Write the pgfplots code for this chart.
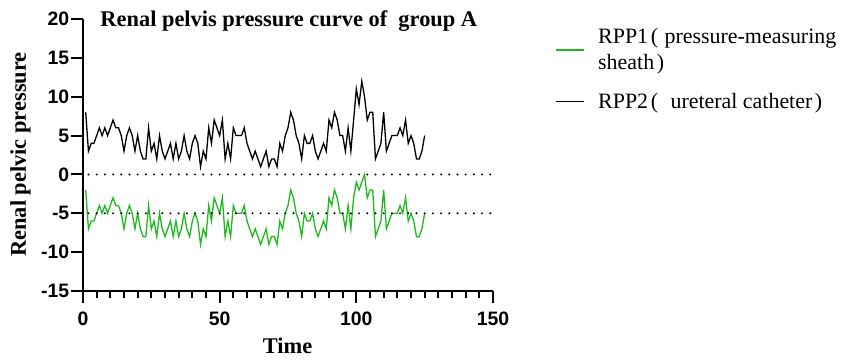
\documentclass[border=0pt]{standalone}
\usepackage{fontspec}
\setmainfont{Liberation Serif}
\newfontfamily\arial{Liberation Sans}
\usepackage{pgfplots}
\pgfplotsset{compat=1.18}
\usepackage{pgfplotstable}
\definecolor{rppgreen}{RGB}{30,185,30}
\pgfplotsset{
  rpplegend/.style={legend image code/.code={\draw[##1] (0bp,0bp) -- (28bp,0bp); \path (40bp,0bp);}},
}

\pgfplotstableread{
x y
1 8
2 3
3 4
4 4
5 5
6 6
7 5
8 6
9 5
10 6
11 7
12 6
13 6
14 5
15 3
16 5
17 6
18 5
19 3
20 5
21 3
22 2
23 2
24 6
25 3
26 4
27 2
28 5
29 3
30 2
31 3
32 4
33 2
34 4
35 2
36 3
37 5
38 3
39 2
40 4
41 5
42 4
43 1
44 3
45 2
46 6
47 4
48 7
49 6
50 5
51 7
52 2
53 4
54 2
55 6
56 5
57 5
58 5
59 6
60 4
61 3
62 2
63 3
64 2
65 1
66 2
67 3
68 1
69 2
70 2
71 1
72 4
73 3
74 5
75 6
76 8
77 7
78 5
79 4
80 2
81 5
82 4
83 4
84 5
85 3
86 2
87 3
88 4
89 3
90 7
91 6
92 8
93 7
94 5
95 5
96 3
97 6
98 3
99 7
100 11
101 9
102 12
103 10
104 7
105 8
106 8
107 2
108 3
109 4
110 8
111 3
112 4
113 5
114 5
115 5
116 6
117 5
118 7
119 4
120 5
121 4
122 2
123 2
124 3
125 5
}\rpptwo

\pgfplotstableread{
x y
1 -2
2 -7
3 -6
4 -6
5 -5
6 -4
7 -5
8 -4
9 -5
10 -4
11 -3
12 -4
13 -4
14 -5
15 -7
16 -5
17 -4
18 -5
19 -7
20 -5
21 -7
22 -8
23 -8
24 -4
25 -7
26 -6
27 -8
28 -5
29 -7
30 -8
31 -7
32 -6
33 -8
34 -6
35 -8
36 -7
37 -5
38 -7
39 -8
40 -6
41 -5
42 -6
43 -9
44 -7
45 -8
46 -4
47 -6
48 -3
49 -4
50 -5
51 -3
52 -8
53 -6
54 -8
55 -4
56 -5
57 -5
58 -5
59 -4
60 -6
61 -7
62 -8
63 -7
64 -8
65 -9
66 -8
67 -7
68 -9
69 -8
70 -8
71 -9
72 -6
73 -7
74 -5
75 -4
76 -2
77 -3
78 -5
79 -6
80 -8
81 -5
82 -6
83 -6
84 -5
85 -7
86 -8
87 -7
88 -6
89 -7
90 -3
91 -4
92 -2
93 -3
94 -5
95 -5
96 -7
97 -4
98 -7
99 -3
100 -1
101 -2
102 -1
103 0
104 -3
105 -2
106 -2
107 -8
108 -7
109 -6
110 -2
111 -7
112 -6
113 -5
114 -5
115 -5
116 -4
117 -5
118 -3
119 -6
120 -5
121 -6
122 -8
123 -8
124 -7
125 -5
}\rppone

\pgfplotstableread{
x y
2 0
150 0
}\zeroline

\pgfplotstableread{
x y
2 -5
150 -5
}\fiveline

\begin{document}
\begin{tikzpicture}
\begin{axis}[
  scale only axis,
  width=410bp, height=272bp,
  xmin=0, xmax=150, ymin=-15, ymax=20,
  axis x line=bottom, axis y line=left,
  axis line style={line width=2.2bp, -},
  xtick={0,50,100,150}, minor x tick num=9,
  ytick={-15,-10,-5,0,5,10,15,20},
  tick align=outside,
  major tick length=12bp, minor tick length=7bp,
  tick style={black, line width=2bp},
  /pgf/number format/assume math mode=true,
  tick label style={font=\arial\bfseries\fontsize{19.5}{20}\selectfont},
  yticklabel style={inner sep=1.5bp},
  xticklabel style={inner sep=3bp, yshift=-6bp},
  xlabel={Time}, ylabel={Renal pelvic pressure},
  every axis x label/.style={at={(rel axis cs:0.499,-0.228)}, anchor=base,
    font=\rmfamily\bfseries\fontsize{22.5}{24}\selectfont},
  every axis y label/.style={at={(rel axis cs:-0.127,0.502)}, rotate=90, anchor=south, inner sep=0pt,
    font=\rmfamily\bfseries\fontsize{22.5}{24}\selectfont},
  clip=false,
  legend style={at={(rel axis cs:1.151,0.965)}, anchor=north west, draw=none, fill=none,
    inner sep=0pt, outer sep=0pt, row sep=22bp,
    font=\rmfamily\mdseries\fontsize{22}{26}\selectfont,
    nodes={inner ysep=0pt}},
  legend cell align=left,
  rpplegend,
]
\addplot[rppgreen, line width=1.3bp] table {\rppone};
\addlegendentry{\vbox{\baselineskip=26bp \lineskiplimit=-20bp
  \hbox{RPP1\kern0.12em(\kern0.3em pressure-measuring}
  \hbox{sheath\kern0.12em)}}}
\addplot[black, line width=1.3bp] table {\rpptwo};
\addlegendentry{RPP2\kern0.12em(\kern0.57em ureteral catheter\kern0.12em)}
\addplot[black, line width=2.2bp, line cap=round, dash pattern=on 0bp off 8.2bp, forget plot] table {\zeroline};
\addplot[black, line width=2.2bp, line cap=round, dash pattern=on 0bp off 8.2bp, forget plot] table {\fiveline};
\node[font=\rmfamily\bfseries\fontsize{22.5}{24}\selectfont, anchor=base] at (rel axis cs:0.502,0.971) {Renal pelvis pressure curve of\ \ group A};
\coordinate (bbbl) at (rel axis cs:-0.2024,-0.25);
\coordinate (bbtr) at (rel axis cs:1.878,1.0699);
\end{axis}
\pgfresetboundingbox
\useasboundingbox (bbbl) rectangle (bbtr);
\end{tikzpicture}
\end{document}
